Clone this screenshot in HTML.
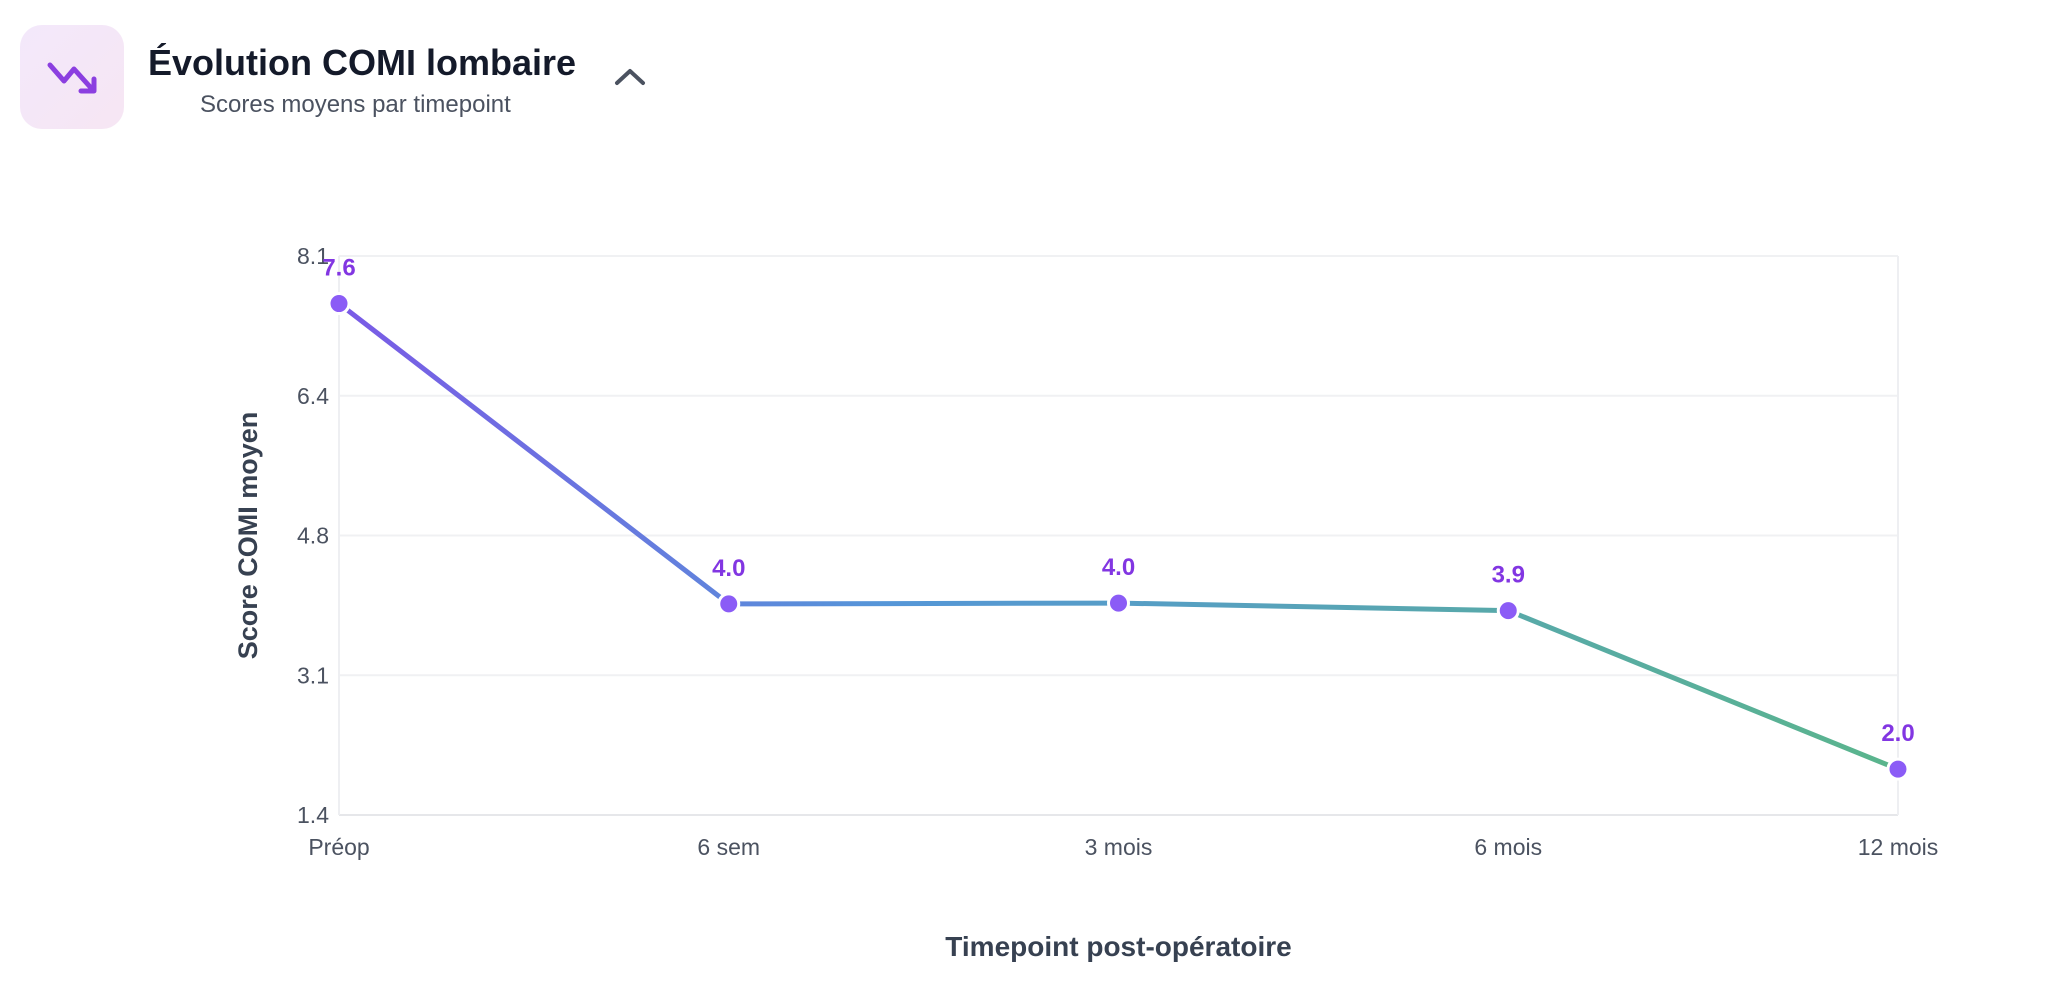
<!DOCTYPE html>
<html><head><meta charset="utf-8"><style>
body{margin:0;width:2058px;height:990px;background:#fff;font-family:"Liberation Sans",sans-serif;overflow:hidden;position:relative}
.icon{position:absolute;left:20px;top:25px;width:104px;height:104px;border-radius:22px;background:linear-gradient(135deg,#f3e8fb,#f6e6f3)}
.title{position:absolute;left:148px;top:42px;font-size:36px;font-weight:bold;color:#141a2a}
.sub{position:absolute;left:200px;top:91px;font-size:24px;color:#4b5260}
</style></head><body>
<div class="icon">
<svg width="104" height="104"><polyline points="30,40 44,56 54,44 72,64" fill="none" stroke="#8b3fe0" stroke-width="5" stroke-linecap="round" stroke-linejoin="round"/><polyline points="61,66 74,66 74,54" fill="none" stroke="#8b3fe0" stroke-width="5" stroke-linecap="round" stroke-linejoin="round"/></svg></div>
<div class="title">Évolution COMI lombaire</div>
<div class="sub">Scores moyens par timepoint</div>
<svg style="position:absolute;left:612px;top:64px" width="36" height="24"><polyline points="5,19 18,7 31,19" fill="none" stroke="#4b5260" stroke-width="4" stroke-linecap="round" stroke-linejoin="round"/></svg>
<svg id="chart" style="position:absolute;left:0;top:0" width="2058" height="990">
<defs><linearGradient id="lg" x1="0" x2="1" y1="0" y2="0"><stop offset="0" stop-color="#7a5ae6"/><stop offset="0.35" stop-color="#5596d8"/><stop offset="1" stop-color="#5ab58c"/></linearGradient></defs>
</svg>
<script>
const categories=["Préop","6 sem","3 mois","6 mois","12 mois"];
const values=[7.53,3.93,3.94,3.85,1.95];
const printed=["7.6","4.0","4.0","3.9","2.0"];
const yTicks=[8.1,6.425,4.75,3.075,1.4];
const yTickLabels=["8.1","6.4","4.8","3.1","1.4"];
const L=339,R=1898,T=256,B=815,yMin=1.4,yMax=8.1;
const NS="http://www.w3.org/2000/svg",svg=document.getElementById('chart');
const x=i=>L+i*(R-L)/(categories.length-1);
const y=v=>B-(v-yMin)/(yMax-yMin)*(B-T);
function mk(t,a,txt){const e=document.createElementNS(NS,t);for(const k in a)e.setAttribute(k,a[k]);if(txt!=null)e.textContent=txt;svg.appendChild(e);return e;}
yTicks.forEach((v,i)=>{
const g=mk('line',{x1:L,x2:R,y1:y(v),y2:y(v),stroke:i==yTicks.length-1?'#e6e7ea':'#f0f1f3','stroke-width':2});


const t=mk('text',{x:L-10,y:y(v)+8,'text-anchor':'end','font-size':23,fill:'#4b5260'},yTickLabels[i]);


});
categories.forEach((c,i)=>{
if(i==0||i==categories.length-1){
const g=mk('line',{x1:x(i),x2:x(i),y1:T,y2:B,stroke:'#eeeff2','stroke-width':2});


}
const t=mk('text',{x:x(i),y:B+40,'text-anchor':'middle','font-size':23,fill:'#4b5260'},c);


});
const p=mk('polyline',{points:values.map((v,i)=>x(i)+','+y(v)).join(' '),fill:'none',stroke:'url(#lg)','stroke-width':5,'stroke-linejoin':'round'});


values.forEach((v,i)=>{
const c=mk('circle',{cx:x(i),cy:y(v),r:10,fill:'#8b5cf6',stroke:'#fff','stroke-width':3});


const t=mk('text',{x:x(i),y:y(v)-28,'text-anchor':'middle','font-size':24,'font-weight':'bold',fill:'#8236e2'},printed[i]);


});
const yt=mk('text',{x:0,y:0,transform:'translate(257,'+(T+B)/2+') rotate(-90)','text-anchor':'middle','font-size':27,'font-weight':'bold',fill:'#374151'},'Score COMI moyen');


const xt=mk('text',{x:(L+R)/2,y:956,'text-anchor':'middle','font-size':28,'font-weight':'bold',fill:'#374151'},'Timepoint post-opératoire');


</script>
</body></html>
